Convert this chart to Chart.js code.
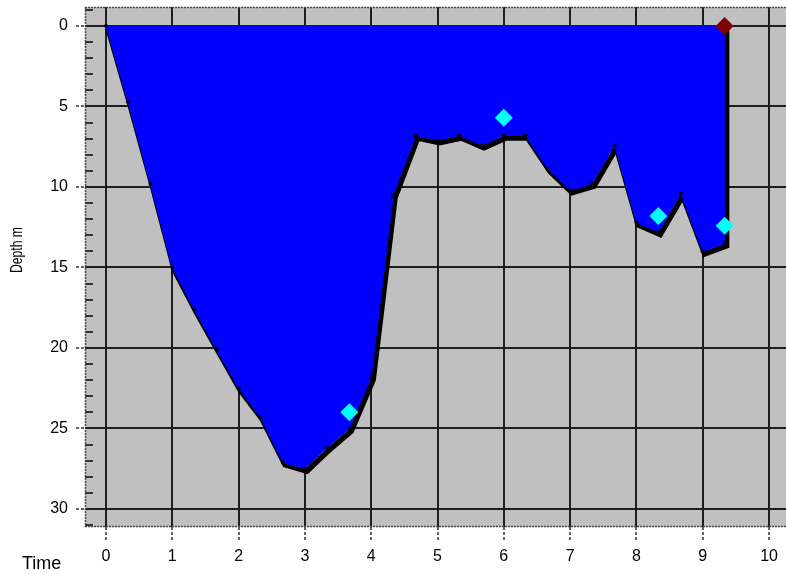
<!DOCTYPE html>
<html lang="en">
<head>
<meta charset="UTF-8">
<title>Depth profile</title>
<style>
    body { margin: 0; background: #fff; }
    #wrap { width: 786px; height: 574px; }
</style>
</head>
<body>
<div id="wrap"><canvas id="chart" width="786" height="574"></canvas></div>
<script src="https://cdn.jsdelivr.net/npm/chart.js"></script>
<script>
// profile (time, depth in m)
const profileTime = [0, 0.33, 0.67, 1.0, 1.33, 1.67, 2.0, 2.33, 2.67, 3.0, 3.33, 3.67, 4.0, 4.33, 4.67,
    5.0, 5.33, 5.67, 6.0, 6.33, 6.67, 7.0, 7.33, 7.67, 8.0, 8.33, 8.67, 9.0, 9.33, 9.33];
const profileDepth = [0, 4.7, 9.8, 15.0, 17.6, 20.1, 22.5, 24.3, 27.1, 27.5, 26.2, 25.0, 21.8, 10.5, 6.8,
    7.1, 6.8, 7.4, 6.8, 6.8, 8.9, 10.2, 9.8, 7.4, 12.2, 12.8, 10.4, 14.0, 13.5, 0];
const markerTime = [3.67, 6.0, 8.33, 9.33];
const markerDepth = [24.0, 5.7, 11.8, 12.4];
const endTime = [9.33];
const endDepth = [0];

const xTicks = [0, 1, 2, 3, 4, 5, 6, 7, 8, 9, 10];
const yTicks = [0, 5, 10, 15, 20, 25, 30];
const yMinorTicks = [-1, 1, 2, 3, 4, 6, 7, 8, 9, 11, 12, 13, 14, 16, 17, 18, 19, 21, 22, 23, 24, 26, 27, 28, 29, 31];

const FONT = '"Liberation Sans", Arial, sans-serif';

function toPoints(xs, ys) {
    return xs.map((x, i) => ({ x: x, y: ys[i] }));
}

function noPad(s) {
    s.paddingLeft = 0;
    s.paddingRight = 0;
    s.paddingTop = 0;
    s.paddingBottom = 0;
}

const decor = {
    id: 'decor',
    beforeDraw(chart) {
        const { ctx, chartArea: a } = chart;
        ctx.save();
        ctx.fillStyle = '#c0c0c0';
        ctx.fillRect(a.left, a.top, a.right - a.left, a.bottom - a.top);
        ctx.restore();
    },
    beforeDatasetsDraw(chart) {
        const { ctx, chartArea: a } = chart;
        const y = chart.scales.y;
        ctx.save();
        ctx.strokeStyle = '#333';
        ctx.lineWidth = 2;
        yMinorTicks.forEach(v => {
            const py = Math.round(y.getPixelForValue(v));
            ctx.beginPath();
            ctx.moveTo(a.left, py);
            ctx.lineTo(a.left + 8, py);
            ctx.stroke();
        });
        // dashed frame: top, left, bottom
        ctx.strokeStyle = '#4a4a4a';
        ctx.lineWidth = 1.5;
        ctx.setLineDash([2, 1]);
        ctx.beginPath();
        ctx.moveTo(a.left, a.top + 0.5);
        ctx.lineTo(a.right, a.top + 0.5);
        ctx.moveTo(a.left + 0.5, a.top);
        ctx.lineTo(a.left + 0.5, a.bottom);
        ctx.moveTo(a.left, a.bottom - 0.5);
        ctx.lineTo(a.right, a.bottom - 0.5);
        ctx.stroke();
        ctx.restore();
    },
    beforeDatasetDraw(chart, args) {
        if (chart.data.datasets[args.index].shadow) {
            chart.ctx.save();
            chart.ctx.translate(2, 2.5);
        }
    },
    afterDatasetDraw(chart, args) {
        if (chart.data.datasets[args.index].shadow) {
            chart.ctx.restore();
        }
    },
    afterDraw(chart) {
        const ctx = chart.ctx;
        ctx.save();
        ctx.fillStyle = '#000';
        ctx.font = '18px ' + FONT;
        ctx.textAlign = 'left';
        ctx.textBaseline = 'alphabetic';
        ctx.fillText('Time', 22, 569);
        ctx.translate(21.5, 250);
        ctx.rotate(-Math.PI / 2);
        ctx.scale(0.76, 1);
        ctx.font = '16px ' + FONT;
        ctx.textAlign = 'center';
        ctx.fillText('Depth m', 0, 0);
        ctx.restore();
    }
};

const lastIdx = profileTime.length - 1;

new Chart(document.getElementById('chart'), {
    type: 'line',
    data: {
        datasets: [
            {
                data: toPoints(endTime, endDepth),
                showLine: false,
                pointStyle: 'rectRot',
                pointRadius: 9,
                pointBackgroundColor: '#800000',
                pointBorderWidth: 0,
                order: 0
            },
            {
                data: toPoints(markerTime, markerDepth),
                showLine: false,
                pointStyle: 'rectRot',
                pointRadius: 9,
                pointBackgroundColor: '#00ffff',
                pointBorderWidth: 0,
                order: 1
            },
            {
                data: toPoints(profileTime, profileDepth),
                fill: { value: 0 },
                backgroundColor: '#0000ff',
                borderColor: '#0000ff',
                borderWidth: 1,
                pointRadius: c => c.dataIndex === lastIdx ? 0 : 2,
                pointBackgroundColor: '#000010',
                pointBorderWidth: 0,
                order: 2
            },
            {
                data: toPoints(profileTime, profileDepth),
                shadow: true,
                fill: false,
                borderColor: '#000',
                borderWidth: 5.5,
                pointRadius: 0,
                order: 3
            }
        ]
    },
    options: {
        responsive: false,
        animation: false,
        layout: { autoPadding: false, padding: { top: 7, left: 0, right: 0, bottom: 0 } },
        plugins: {
            legend: { display: false },
            tooltip: { enabled: false }
        },
        scales: {
            x: {
                type: 'linear',
                min: -0.317,
                max: 10.256,
                afterBuildTicks: s => { s.ticks = xTicks.map(v => ({ value: v })); },
                afterFit: s => { s.height = 47; noPad(s); },
                grid: {
                    color: '#1e1e1e',
                    lineWidth: 2,
                    tickLength: 15,
                    tickColor: '#333',
                    tickWidth: 1.5,
                    tickBorderDash: [3, 2]
                },
                border: { display: false },
                ticks: {
                    autoSkip: false,
                    maxRotation: 0,
                    color: '#000',
                    padding: 5,
                    font: { family: FONT, size: 16 }
                }
            },
            y: {
                type: 'linear',
                reverse: true,
                min: -1.18,
                max: 31.12,
                afterBuildTicks: s => { s.ticks = yTicks.map(v => ({ value: v })); },
                afterFit: s => { s.width = 85; noPad(s); },
                grid: {
                    color: '#1e1e1e',
                    lineWidth: 2,
                    tickLength: 9,
                    tickColor: '#333',
                    tickWidth: 1.5,
                    tickBorderDash: [3, 2]
                },
                border: { display: false },
                ticks: {
                    color: '#000',
                    padding: 8,
                    font: { family: FONT, size: 16 }
                }
            }
        }
    },
    plugins: [decor]
});
</script>
</body>
</html>
